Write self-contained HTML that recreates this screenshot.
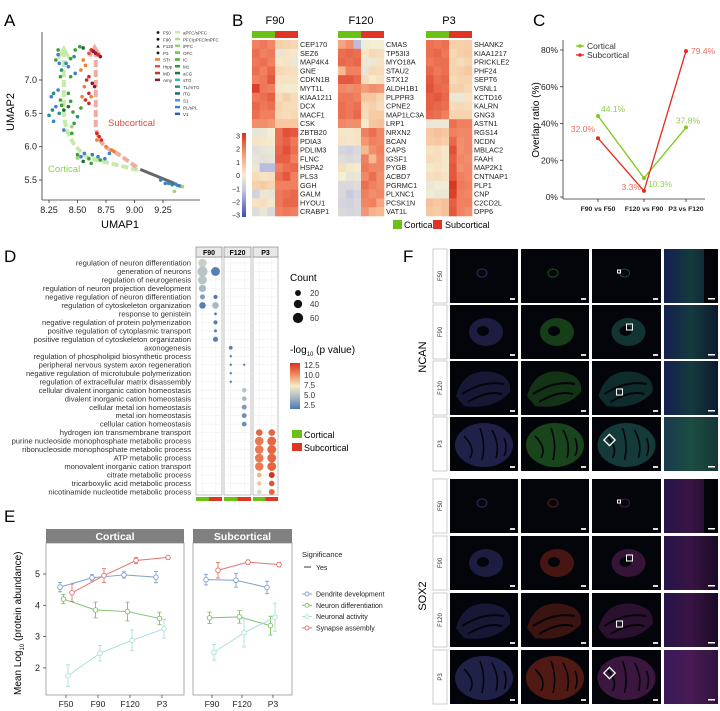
<!DOCTYPE html>
<html><head><meta charset="utf-8"><style>
html,body{margin:0;padding:0;background:#fff;}
svg{display:block;font-family:"Liberation Sans",sans-serif;}
.nar{font-family:"Liberation Sans Narrow","Liberation Sans",sans-serif;}
</style></head><body>
<svg id="fig" width="720" height="711" viewBox="0 0 720 711" xmlns="http://www.w3.org/2000/svg">
<defs>
<linearGradient id="hbar" x1="0" y1="1" x2="0" y2="0">
<stop offset="0" stop-color="#3b4cc0"/><stop offset="0.33" stop-color="#c9c9e0"/><stop offset="0.5" stop-color="#f4efd4"/><stop offset="0.75" stop-color="#f29a72"/><stop offset="1" stop-color="#d7301f"/></linearGradient>
<linearGradient id="pbar" x1="0" y1="1" x2="0" y2="0">
<stop offset="0" stop-color="#4a78b4"/><stop offset="0.25" stop-color="#a9b9c4"/><stop offset="0.5" stop-color="#f3eec9"/><stop offset="0.75" stop-color="#f08a5a"/><stop offset="1" stop-color="#d7301f"/></linearGradient>
<linearGradient id="texN" x1="0" y1="0" x2="1" y2="0"><stop offset="0" stop-color="#2a46b8"/><stop offset="0.5" stop-color="#2f8a8a"/><stop offset="1" stop-color="#1a3a6a"/></linearGradient>
<linearGradient id="texS" x1="0" y1="0" x2="1" y2="0"><stop offset="0" stop-color="#5a2aa8"/><stop offset="0.5" stop-color="#8a2a9a"/><stop offset="1" stop-color="#3a1450"/></linearGradient>
</defs>
<g font-size="17">
<text x="4" y="26">A</text>
<text x="232" y="26">B</text>
<text x="533" y="26">C</text>
<text x="4" y="262">D</text>
<text x="403" y="262">F</text>
<text x="4" y="522">E</text>
</g>
<g id="pA"></g>
<g id="pB"></g>
<g id="pC"></g>
<g id="pD"></g>
<g id="pE"></g>
<g id="pF"></g>
</svg>
<script>
// ---------- DATA ----------
// Panel A
const umapX=[8.33,8.33,8.31,8.34,8.36,8.35,8.42,8.44,8.47,8.48,8.52,8.55,8.48,8.44,8.40,8.27,8.29,8.31,8.28,8.25,8.29,8.33,8.35,8.36,8.34,8.38,8.42,8.44,8.46,8.45,8.47,8.50,8.53,8.45,8.38,8.42,8.5,8.53,8.56,8.6,8.63,8.68,8.7,8.74,8.78,8.55,8.62,8.5,9.23,9.3,9.33,9.36,9.38,9.4,9.42,9.35,9.27,8.62,8.64,8.66,8.68,8.7,8.6,8.55,8.57,8.53,8.58,8.6,8.56,8.63,8.65,8.6,8.62,8.57,8.54,8.6,8.67,8.69,8.71,8.67,8.75,8.8,8.82];
const umapY=[7.45,7.38,7.3,7.25,7.15,7.05,7.2,7.32,7.35,7.45,7.5,7.48,7.1,7.05,7.25,6.75,6.8,6.6,6.55,6.47,6.38,6.85,6.7,6.62,6.5,6.55,6.6,6.68,6.52,6.3,6.35,6.45,6.58,6.2,6.25,6.8,5.88,5.85,5.9,5.82,5.88,5.85,5.8,5.82,5.9,5.78,5.75,5.83,5.5,5.45,5.43,5.44,5.42,5.41,5.4,5.33,5.45,7.45,7.43,7.4,7.38,7.35,7.4,7.3,7.22,7.15,7.0,7.05,6.9,6.95,6.9,6.8,6.75,6.7,6.75,6.65,6.2,6.15,6.1,6.1,6.0,5.95,5.93];
const umapRegion=[1,2,1,2,3,1,2,1,3,1,1,4,2,1,2,2,3,2,3,3,2,2,1,1,3,4,4,1,1,0,1,3,1,1,2,1,1,2,2,1,3,2,1,2,2,4,1,0,2,2,3,2,2,3,0,0,2,6,7,7,6,7,5,8,8,8,6,6,8,7,7,6,8,6,8,6,6,6,6,8,8,8,8];
const regionColors=['#9bd67a','#3aa03a','#3f7fcf','#2b8c8c','#1f6f2f','#e8504a','#d62728','#8b1a3a','#f07f2a'];
const legendAges=['F50','F90','F120','P3'];
const legendSub=['STr','Hipp','MD','Amy'];const legendSubCol=['#f07f2a','#e8504a','#c0392b','#8b1a3a'];
const legendCort=['aPFC/sPFC','PFC/pPFC/mPFC','iPFC','OFC','IC','M1','aCG','sTG','TL/mTG','iTG','S1','PL/sPL','V1'];
const legendCortCol=['#c5eab0','#a8df90','#8fd16a','#6fc04a','#4cae3a','#2e9a2e','#237a30','#3bb4b0','#2b8c8c','#1f6a6a','#5a8fd6','#3f7fcf','#2a5fb8'];
const umapXTicks=[8.25,8.5,8.75,9.0,9.25];const umapYTicks=[5.5,6.0,6.5,7.0];
// Panel B
const hmTitles=['F90','F120','P3'];
const hmGenes=[
['CEP170','SEZ6','MAP4K4','GNE','CDKN1B','MYT1L','KIAA1211','DCX','MACF1','CSK','ZBTB20','PDIA3','PDLIM3','FLNC','HSPA2','PLS3','GGH','GALM','HYOU1','CRABP1'],
['CMAS','TP53I3','MYO18A','STAU2','STX12','ALDH1B1','PLPPR3','CPNE2','MAP1LC3A','LRP1','NRXN2','BCAN','CAPS','IGSF1','PYGB','ACBD7','PGRMC1','PLXNC1','PCSK1N','VAT1L'],
['SHANK2','KIAA1217','PRICKLE2','PHF24','SEPT6','VSNL1','KCTD16','KALRN','GNG3','ASTN1','RGS14','NCDN','MBLAC2','FAAH','MAP2K1','CNTNAP1','PLP1','CNP','C2CD2L','DPP6']];
const hmF90=[[2.0,2.1,1.9,0.8,0.7,0.6],[2.2,2.0,2.1,-0.3,0.3,0.2],[2.1,2.2,2.0,0.2,0.3,-0.2],[2.2,2.0,2.3,0.6,0.5,0.4],[2.0,2.1,2.5,0.3,0.3,0.3],[2.8,2.1,2.0,0.2,0.1,0.1],[2.1,2.2,2.4,0.5,0.8,0.5],[2.3,2.1,2.2,0.7,0.5,0.5],[2.2,2.0,2.0,0.6,0.5,0.6],[1.8,1.8,1.7,1.0,1.0,1.0],[-0.3,-0.2,0,2.2,2.6,2.5],[0.3,0.2,0.1,2.2,2.4,2.1],[-0.4,-0.3,-0.2,2.3,2.6,2.2],[-0.3,-0.4,-0.3,2.4,2.4,2.0],[-0.2,-1.2,-1.2,2.0,2.2,2.3],[0.5,0.3,0.4,2.2,2.5,2.0],[0.8,0.9,0.7,2.0,2.0,2.0],[-0.8,-0.2,-0.3,2.1,2.2,2.3],[0.3,0.4,0.2,2.1,2.3,2.3],[-0.5,-0.2,-0.6,2.0,2.1,2.0]];
const hmF120=[[1.5,1.8,-1.2,-0.1,0,0],[2.2,2.3,2.2,0.2,0.6,0.4],[2.3,2.2,2.3,-0.2,-0.2,0.3],[1.2,2.0,2.0,-0.3,0.6,0.5],[2.5,2.5,2.3,0.5,0.1,0.3],[1.9,1.8,1.9,1.6,1.8,1.7],[2.1,2.1,2.0,1.0,1.0,0.7],[2.2,2.1,2.2,0.6,0.8,0.5],[2.2,2.1,2.3,0.5,0.9,0.9],[1.9,1.8,1.8,0.1,1.0,1.1],[0.2,0.2,0.3,2.0,2.2,1.9],[0.3,0.2,0.3,1.7,2.0,1.9],[-0.7,-0.8,-0.6,1.2,1.8,2.0],[-0.5,-0.6,-0.5,2.0,1.2,1.9],[0.4,0.2,0.1,2.1,1.9,1.9],[0,-0.3,-0.2,1.9,2.2,1.8],[-0.6,-0.6,-0.5,2.2,2.0,1.8],[-0.6,-1.0,-0.7,2.0,1.8,1.9],[-0.7,-0.8,-0.6,1.9,2.0,1.5],[-0.6,-0.7,-0.6,1.7,1.3,1.2]];
const hmP3=[[2.2,2.1,2.2,0.8,0.8,0.8],[2.2,2.3,2.1,0.6,0.8,0.9],[2.1,2.2,2.2,0.7,0.5,0.7],[2.3,2.1,2.2,0.7,0.8,1.0],[2.5,2.2,2.3,0.5,0.7,0.7],[2.6,2.3,2.2,0.8,0.8,0.6],[2.4,2.5,2.3,-0.2,-0.2,0.3],[2.4,2.3,2.2,0.5,0.6,0.5],[2.3,2.2,2.0,0.7,0.7,0.7],[-0.2,-0.2,-0.2,2.2,2.0,2.0],[1.0,1.1,1.0,2.0,1.9,1.9],[0.9,1.0,0.8,2.3,1.8,1.9],[0.3,0.4,0.2,2.6,1.8,1.9],[0.5,0.4,0.2,2.4,1.9,1.8],[0.2,0.3,0.2,2.5,1.8,1.9],[0.4,0.5,0.3,2.5,2.0,1.9],[-0.2,-0.1,-0.1,2.9,2.1,2.0],[-0.1,-0.2,-0.2,2.8,2.0,1.9],[1.1,1.0,1.1,2.4,2.0,2.0],[1.0,0.9,1.1,2.5,2.0,1.8]];
const hmScaleTicks=[3,2,1,0,-1,-2,-3];
// Panel C
const ovCategories=['F90 vs F50','F120 vs F90','P3 vs F120'];
const ovCortical=[44.1,10.3,37.8];
const ovSubcortical=[32.0,3.3,79.4];
const ovTicks=[0,20,40,60,80];
// Panel D
const goTerms=['regulation of neuron differentiation','generation of neurons','regulation of neurogenesis','regulation of neuron projection development','negative regulation of neuron differentiation','regulation of cytoskeleton organization','response to genistein','negative regulation of protein polymerization','positive regulation of cytoplasmic transport','positive regulation of cytoskeleton organization','axonogenesis','regulation of phospholipid biosynthetic process','peripheral nervous system axon regeneration','negative regulation of microtubule polymerization','regulation of extracellular matrix disassembly','cellular divalent inorganic cation homeostasis','divalent inorganic cation homeostasis','cellular metal ion homeostasis','metal ion homeostasis','cellular cation homeostasis','hydrogen ion transmembrane transport','purine nucleoside monophosphate metabolic process','ribonucleoside monophosphate metabolic process','ATP metabolic process','monovalent inorganic cation transport','citrate metabolic process','tricarboxylic acid metabolic process','nicotinamide nucleotide metabolic process'];
const goStages=['F90','F120','P3'];
const goTerm =[0,1,1,2,3,4,4,5,5,6,7,8,9,10,11,12,12,13,14,15,16,17,18,19,20,20,21,21,22,22,23,23,24,24,25,25,26,26,27,27];
const goStage=[0,0,0,0,0,0,0,0,0,0,0,0,0,1,1,1,1,1,1,1,1,1,1,1,2,2,2,2,2,2,2,2,2,2,2,2,2,2,2,2];
const goGroup=[0,0,1,0,0,0,1,0,1,1,1,1,1,0,0,0,1,0,0,1,1,1,1,1,0,1,0,1,0,1,0,1,0,1,0,1,0,1,0,1];
const goCount=[40,60,45,45,30,15,10,25,25,4,10,5,15,8,3,3,3,3,3,12,12,14,14,13,25,25,42,45,42,45,42,45,40,45,12,20,12,18,12,20];
const goLogP=[6,5.5,2.8,5.5,5,4,2.5,2.8,5,2.5,2.8,2.6,2.8,2.8,2.5,2.5,2.5,2.5,2.5,5.5,5,3.8,3.5,3.3,11,11,10.5,11,10.5,11,10.5,11,10.5,11,9,13,8.5,11.5,6.5,11];
const goCountLegend=[20,40,60];
const goPLegend=[12.5,10.0,7.5,5.0,2.5];
// Panel E
const eSeries=['Dendrite development','Neuron differentiation','Neuronal activity','Synapse assembly'];
const eCortStages=['F50','F90','F120','P3'];
const eSubStages=['F90','F120','P3'];
const eCortMean=[[4.58,4.88,4.97,4.9],[4.2,3.85,3.8,3.58],[1.75,2.47,2.88,3.25],[4.4,4.95,5.43,5.53]];
const eCortErr=[[0.15,0.1,0.1,0.18],[0.15,0.25,0.3,0.2],[0.35,0.25,0.33,0.3],[0.28,0.22,0.1,0.06]];
const eSubMean=[[4.82,4.8,4.57],[3.6,3.63,3.35],[2.5,3.12,3.62],[5.12,5.38,5.3]];
const eSubErr=[[0.17,0.22,0.2],[0.18,0.2,0.3],[0.25,0.45,0.45],[0.25,0.07,0.07]];
const eYTicks=[2,3,4,5];
// Panel F
const fStains=['NCAN','SOX2'];
const fAges=['F50','F90','F120','P3'];

// ---------- HELPERS ----------
const NS='http://www.w3.org/2000/svg';
function mk(tag,attrs,parent){const e=document.createElementNS(NS,tag);for(const k in attrs)e.setAttribute(k,attrs[k]);parent.appendChild(e);return e;}
function txt(s,attrs,parent){const e=mk('text',attrs,parent);e.textContent=s;return e;}
function lerpCol(stops,v){
 if(v<=stops[0][0])return 'rgb('+stops[0][1].join(',')+')';
 for(let i=1;i<stops.length;i++){if(v<=stops[i][0]){const a=stops[i-1],b=stops[i];const t=(v-a[0])/(b[0]-a[0]);return 'rgb('+a[1].map((c,j)=>Math.round(c+(b[1][j]-c)*t)).join(',')+')';}}
 return 'rgb('+stops[stops.length-1][1].join(',')+')';}
const hmStops=[[-3,[59,76,192]],[-1,[201,201,224]],[0,[244,239,212]],[1,[247,200,160]],[2,[240,128,95]],[3,[215,48,31]]];
const pStops=[[2.5,[74,120,180]],[5,[169,185,196]],[7.5,[243,238,201]],[10,[240,138,90]],[12.5,[215,48,31]]];
const GREEN='#6cc214',RED='#e03424';

// ---------- PANEL A ----------
(function(){
 const g=document.getElementById('pA');
 const ax=v=>49+(v-8.25)*114, ay=v=>80+(7.0-v)*66.7;
 mk('line',{x1:42,y1:32,x2:42,y2:200,stroke:'#333','stroke-width':0.8},g);
 mk('line',{x1:42,y1:200,x2:200,y2:200,stroke:'#333','stroke-width':0.8},g);
 umapXTicks.forEach(t=>{mk('line',{x1:ax(t),y1:200,x2:ax(t),y2:203,stroke:'#333','stroke-width':0.8},g);
  const l=txt(t.toFixed(2),{x:ax(t),y:213,'font-size':9,'text-anchor':'middle',fill:'#222'},g);
  
  });
 umapYTicks.forEach(t=>{mk('line',{x1:39,y1:ay(t),x2:42,y2:ay(t),stroke:'#333','stroke-width':0.8},g);
  const l=txt(t.toFixed(1),{x:37,y:ay(t)+3,'font-size':9,'text-anchor':'end',fill:'#222'},g);
  
  });
 const xt=txt('UMAP1',{x:120,y:228,'font-size':11,'text-anchor':'middle'},g);
 
 
 const yt=txt('UMAP2',{x:14,y:112,'font-size':11,'text-anchor':'middle',transform:'rotate(-90 14 112)'},g);
 
 
 const tg=mk('path',{d:`M${ax(8.38)},${ay(7.45)} L${ax(8.38)},${ay(6.5)} Q${ax(8.40)},${ay(6.05)} ${ax(8.6)},${ay(5.83)} L${ax(9.03)},${ay(5.65)}`,fill:'none',stroke:'#c6eaa8','stroke-width':4,'stroke-dasharray':'7 3'},g);
 
 
 mk('path',{d:`M${ax(8.33)},${ay(7.32)} L${ax(8.38)},${ay(7.48)} L${ax(8.43)},${ay(7.32)}`,fill:'none',stroke:'#c6eaa8','stroke-width':3},g);
 const tr=mk('path',{d:`M${ax(8.66)},${ay(7.45)} L${ax(8.66)},${ay(6.3)} Q${ax(8.68)},${ay(6.0)} ${ax(8.85)},${ay(5.9)} L${ax(9.03)},${ay(5.68)}`,fill:'none',stroke:'#f0aca0','stroke-width':4,'stroke-dasharray':'7 3'},g);
 
 
 mk('path',{d:`M${ax(8.61)},${ay(7.35)} L${ax(8.65)},${ay(7.5)} L${ax(8.7)},${ay(7.37)}`,fill:'none',stroke:'#f0aca0','stroke-width':3},g);
 const gl=mk('line',{x1:ax(9.05),y1:ay(5.66),x2:ax(9.35),y2:ay(5.45),stroke:'#666','stroke-width':3},g);
 
 
 umapX.forEach((x,i)=>{const c=mk('circle',{cx:ax(x),cy:ay(umapY[i]),r:1.8,fill:regionColors[umapRegion[i]]},g);
  
  });
 const l1=txt('Subcortical',{x:108,y:126,'font-size':9.5,fill:'#e04a3a'},g);
 
 
 const l2=txt('Cortical',{x:48,y:172,'font-size':9.5,fill:'#8fd14f'},g);
 
 
 const lg=mk('g',{},g);
 
 
 legendAges.forEach((s,i)=>{const y=33+i*6.8;
  if(i==2)mk('path',{d:`M158,${y-2} l1.8,3 h-3.6z`,fill:'#111'},lg);else mk('circle',{cx:158,cy:y-0.5,r:1.4,fill:'#111'},lg);
  txt(s,{x:163,y:y+1.5,'font-size':4.5,fill:'#333'},lg);});
 legendSub.forEach((s,i)=>{const y=33+(i+4)*6.8;mk('rect',{x:155,y:y-2,width:5,height:2.5,fill:legendSubCol[i]},lg);
  txt(s,{x:163,y:y+1.5,'font-size':4.5,fill:'#333'},lg);});
 legendCort.forEach((s,i)=>{const y=33+i*6.8;mk('rect',{x:175,y:y-2,width:5,height:2.5,fill:legendCortCol[i]},lg);
  txt(s,{x:183,y:y+1.5,'font-size':4.5,fill:'#333'},lg);});
})();

// ---------- PANEL B ----------
(function(){
 const g=document.getElementById('pB');
 const xs=[252,338,426], W=46, y0=40, rh=8.8, data=[hmF90,hmF120,hmP3];
 data.forEach((m,p)=>{
  const hg=mk('g',{},g);
  
  
  const tt=txt(hmTitles[p],{x:xs[p]+23,y:24,'font-size':11,'text-anchor':'middle'},hg);
  
  
  mk('rect',{x:xs[p],y:31,width:W/2,height:7,fill:GREEN},hg);
  mk('rect',{x:xs[p]+W/2,y:31,width:W/2,height:7,fill:RED},hg);
  const cw=W/6;
  m.forEach((row,r)=>{row.forEach((v,c)=>{const cell=mk('rect',{x:xs[p]+c*cw,y:y0+r*rh,width:cw+0.3,height:rh+0.3,fill:lerpCol(hmStops,v)},hg);
    
    });
   const gl=txt(hmGenes[p][r],{x:xs[p]+W+2,y:y0+r*rh+7,'font-size':7.3,fill:'#222'},hg);
   
   });
 });
 const cb=mk('rect',{x:242,y:133,width:4,height:84,fill:'url(#hbar)'},g);
 
 
 hmScaleTicks.forEach((t,i)=>{txt(t<0?'\u2212'+(-t):''+t,{x:240,y:136+i*13.2+2.5,'font-size':7,'text-anchor':'end',fill:'#222'},g);});
 const lg=mk('g',{},g);
 
 
 mk('rect',{x:393,y:220,width:9,height:9,fill:GREEN},lg);
 txt('Cortical',{x:404,y:228,'font-size':9},lg);
 mk('rect',{x:433,y:220,width:9,height:9,fill:RED},lg);
 txt('Subcortical',{x:445,y:228,'font-size':9},lg);
})();

// ---------- PANEL C ----------
(function(){
 const g=document.getElementById('pC');
 const cx=[598,644,686], cy=v=>197-v*1.8375;
 mk('line',{x1:563,y1:40,x2:563,y2:199,stroke:'#333','stroke-width':0.8},g);
 mk('line',{x1:563,y1:199,x2:705,y2:199,stroke:'#333','stroke-width':0.8},g);
 ovTicks.forEach(t=>{mk('line',{x1:560,y1:cy(t),x2:563,y2:cy(t),stroke:'#333','stroke-width':0.8},g);
  const l=txt(t+'%',{x:558,y:cy(t)+3,'font-size':8.5,'text-anchor':'end',fill:'#222'},g);
  
  });
 ovCategories.forEach((c,i)=>{mk('line',{x1:cx[i],y1:199,x2:cx[i],y2:202,stroke:'#333','stroke-width':0.8},g);
  const l=txt(c,{x:cx[i],y:211,'font-size':6.8,'font-weight':'bold','text-anchor':'middle',fill:'#222'},g);
  
  });
 const yt=txt('Overlap ratio (%)',{x:539,y:120,'font-size':10,'text-anchor':'middle',transform:'rotate(-90 539 120)'},g);
 
 
 [[ovCortical,'#7ccc1a'],[ovSubcortical,'#e8281e']].forEach(([s,col],k)=>{
  const ln=mk('polyline',{points:s.map((v,i)=>cx[i]+','+cy(v)).join(' '),fill:'none',stroke:col,'stroke-width':1.3},g);
  
  
  s.forEach((v,i)=>{const p=mk('circle',{cx:cx[i],cy:cy(v),r:2,fill:col},g);
   
   });
 });
 const lbl=(s,x,y,col,anchor)=>{const l=txt(s,{x:x,y:y,'font-size':8.5,fill:col,'text-anchor':anchor},g);
  
  };
 lbl(ovCortical[0].toFixed(1)+'%',cx[0]+3,cy(ovCortical[0])-4,'#8fd14f','start');
 lbl(ovSubcortical[0].toFixed(1)+'%',cx[0]-3,cy(ovSubcortical[0])-6,'#ef6a5e','end');
 lbl(ovCortical[1].toFixed(1)+'%',cx[1]+4,cy(ovCortical[1])+9,'#8fd14f','start');
 lbl(ovSubcortical[1].toFixed(1)+'%',cx[1]-3,cy(ovSubcortical[1])-1,'#ef6a5e','end');
 lbl(ovCortical[2].toFixed(1)+'%',cx[2]+2,cy(ovCortical[2])-4,'#8fd14f','middle');
 lbl(ovSubcortical[2].toFixed(1)+'%',cx[2]+5,cy(ovSubcortical[2])+3,'#ef6a5e','start');
 const lg=mk('g',{},g);
 
 
 mk('line',{x1:576,y1:46,x2:584,y2:46,stroke:'#7ccc1a','stroke-width':1.3},lg);mk('circle',{cx:580,cy:46,r:1.8,fill:'#7ccc1a'},lg);
 txt('Cortical',{x:587,y:49,'font-size':8.5,fill:'#333'},lg);
 mk('line',{x1:576,y1:55,x2:584,y2:55,stroke:'#e8281e','stroke-width':1.3},lg);mk('circle',{cx:580,cy:55,r:1.8,fill:'#e8281e'},lg);
 txt('Subcortical',{x:587,y:58,'font-size':8.5,fill:'#333'},lg);
})();

// ---------- PANEL D ----------
(function(){
 const g=document.getElementById('pD');
 const px=[[196,222],[224,251],[253,278]], ry=i=>263+i*8.48;
 px.forEach((p,k)=>{
  const pg=mk('g',{},g);
  
  
  mk('rect',{x:p[0],y:257,width:p[1]-p[0],height:238,fill:'#fff',stroke:'#999','stroke-width':0.6},pg);
  goTerms.forEach((t,i)=>mk('line',{x1:p[0],y1:ry(i),x2:p[1],y2:ry(i),stroke:'#ececec','stroke-width':0.5},pg));
  const w=p[1]-p[0];
  [0.25,0.75].forEach(f=>mk('line',{x1:p[0]+w*f,y1:257,x2:p[0]+w*f,y2:495,stroke:'#ececec','stroke-width':0.5},pg));
  mk('rect',{x:p[0],y:247,width:w,height:10,fill:'#e8e8e8',stroke:'#777','stroke-width':0.6},pg);
  txt(goStages[k],{x:p[0]+w/2,y:255,'font-size':7,'font-weight':'bold','text-anchor':'middle'},pg);
  mk('rect',{x:p[0],y:497,width:w/2,height:4,fill:GREEN},pg);
  mk('rect',{x:p[0]+w/2,y:497,width:w/2,height:4,fill:RED},pg);
 });
 goTerms.forEach((t,i)=>{const l=txt(t,{x:191,y:ry(i)+2.6,'font-size':7.6,'text-anchor':'end',fill:'#333',class:'nar'},g);
  
  });
 goTerm.forEach((ti,i)=>{const p=px[goStage[i]],w=p[1]-p[0];
  const c=mk('circle',{cx:p[0]+w*(goGroup[i]?0.75:0.25),cy:ry(ti),r:Math.sqrt(goCount[i])*0.66,fill:lerpCol(pStops,goLogP[i])},g);
  
  });
 const lg=mk('g',{},g);
 
 
 txt('Count',{x:290,y:281,'font-size':10},lg);
 goCountLegend.forEach((c,i)=>{const y=[293,304,318][i];mk('circle',{cx:298,cy:y,r:Math.sqrt(c)*0.66,fill:'#111'},lg);
  txt(''+c,{x:310,y:y+3,'font-size':8,fill:'#333'},lg);});
 const h=txt('-log',{x:290,y:353,'font-size':10},lg);
 const ts=mk('tspan',{'font-size':6,dy:3},h);ts.textContent='10';
 const ts2=mk('tspan',{dy:-3},h);ts2.textContent=' (p value)';
 mk('rect',{x:290,y:363,width:10,height:46,fill:'url(#pbar)'},lg);
 goPLegend.forEach((v,i)=>txt(v.toFixed(1),{x:304,y:368+i*10,'font-size':8,fill:'#333'},lg));
 mk('rect',{x:292,y:430,width:10,height:8,fill:GREEN},lg);txt('Cortical',{x:304,y:438,'font-size':9},lg);
 mk('rect',{x:292,y:443,width:10,height:8,fill:RED},lg);txt('Subcortical',{x:304,y:451,'font-size':9},lg);
})();

// ---------- PANEL E ----------
(function(){
 const g=document.getElementById('pE');
 const ey=v=>574-(v-5)*31.3;
 const cols=['#7fa0cc','#7fbf6a','#a9e0d8','#e4726c'], off=[-6,-2.5,2,6];
 const facets=[{x0:46,x1:184,title:'Cortical',xs:[66,98,130,162],st:eCortStages,m:eCortMean,e:eCortErr},
  {x0:193,x1:292,title:'Subcortical',xs:[212,242,273],st:eSubStages,m:eSubMean,e:eSubErr}];
 facets.forEach(f=>{
  const fg=mk('g',{},g);
  
  
  mk('rect',{x:f.x0,y:543,width:f.x1-f.x0,height:152,fill:'#fff',stroke:'#888','stroke-width':0.7},fg);
  mk('rect',{x:f.x0,y:529,width:f.x1-f.x0,height:14,fill:'#808080'},fg);
  txt(f.title,{x:(f.x0+f.x1)/2,y:540,'font-size':10.5,'font-weight':'bold','text-anchor':'middle',fill:'#fff'},fg);
  f.st.forEach((s,i)=>{mk('line',{x1:f.xs[i],y1:695,x2:f.xs[i],y2:698,stroke:'#333','stroke-width':0.7},fg);
   const l=txt(s,{x:f.xs[i],y:707,'font-size':8.5,'text-anchor':'middle',fill:'#222'},fg);
   
   });
  f.m.forEach((ser,k)=>{
   const ln=mk('polyline',{points:ser.map((v,i)=>(f.xs[i]+off[k])+','+ey(v)).join(' '),fill:'none',stroke:cols[k],'stroke-width':1},fg);
   
   
   ser.forEach((v,i)=>{const x=f.xs[i]+off[k],er=f.e[k][i];
    mk('line',{x1:x,y1:ey(v+er),x2:x,y2:ey(v-er),stroke:cols[k],'stroke-width':0.9},fg);
    mk('line',{x1:x-2,y1:ey(v+er),x2:x+2,y2:ey(v+er),stroke:cols[k],'stroke-width':0.9},fg);
    mk('line',{x1:x-2,y1:ey(v-er),x2:x+2,y2:ey(v-er),stroke:cols[k],'stroke-width':0.9},fg);
    const c=mk('circle',{cx:x,cy:ey(v),r:2.3,fill:'#fff',stroke:cols[k],'stroke-width':0.9},fg);
    
    });
  });
 });
 eYTicks.forEach(t=>{mk('line',{x1:43,y1:ey(t),x2:46,y2:ey(t),stroke:'#333','stroke-width':0.7},g);
  const l=txt(''+t,{x:40,y:ey(t)+3,'font-size':9,'text-anchor':'end',fill:'#222'},g);
  
  });
 const yt=txt('Mean Log',{x:0,y:0,'font-size':10,transform:'translate(21,695) rotate(-90)'},g);
 const s1=mk('tspan',{'font-size':6,dy:3},yt);s1.textContent='10';
 const s2=mk('tspan',{dy:-3},yt);s2.textContent=' (protein abundance)';
 
 
 const lg=mk('g',{},g);
 
 
 txt('Significance',{x:302,y:557,'font-size':7.5,fill:'#222'},lg);
 mk('line',{x1:304,y1:567,x2:311,y2:567,stroke:'#333','stroke-width':1},lg);
 txt('Yes',{x:316,y:570,'font-size':7,fill:'#222'},lg);
 eSeries.forEach((s,k)=>{const y=594+k*11.3;
  mk('line',{x1:302,y1:y,x2:312,y2:y,stroke:cols[k],'stroke-width':1},lg);
  mk('circle',{cx:307,cy:y,r:2,fill:'#fff',stroke:cols[k],'stroke-width':0.9},lg);
  txt(s,{x:316,y:y+2.5,'font-size':7,fill:'#222'},lg);});
})();

// ---------- PANEL F ----------
(function(){
 const g=document.getElementById('pF');
 const colX=[450,521,592,664], colW=[68,68,69,54], H=54;
 const rowY=[[249,305,361,417],[479,536,593,650]];
 fStains.forEach((st,si)=>{
  const sl=txt(st,{x:0,y:0,'font-size':11,'text-anchor':'middle',transform:`translate(426,${si?596:357}) rotate(-90)`},g);
  
  
  const chCol=si?'#a83020':'#2f8f2f', mergeCol=si?'#7a2a7a':'#267a70';
  fAges.forEach((age,ai)=>{
   const y=rowY[si][ai];
   mk('rect',{x:433,y:y,width:14,height:H,fill:'#fff',stroke:'#aaa','stroke-width':0.6},g);
   txt(age,{x:0,y:0,'font-size':6,'text-anchor':'middle',fill:'#333',transform:`translate(442,${y+H/2}) rotate(-90)`},g);
   colX.forEach((x,ci)=>{
    const tg=mk('g',{},g);
    
    
    mk('rect',{x:x,y:y,width:colW[ci],height:H,fill:'#04050a'},tg);
    if(ci==3){
     mk('rect',{x:x,y:y,width:colW[ci],height:H,fill:si?'url(#texS)':'url(#texN)',opacity:0.4},tg);
     if(ai==0)mk('rect',{x:x+40,y:y,width:14,height:H,fill:'#04050a'},tg);
     if(ai==3)mk('rect',{x:x,y:y,width:colW[ci],height:H,fill:si?'#6a2a7a':'#2a7a4a',opacity:0.3},tg);
     mk('rect',{x:x+colW[ci]-10,y:y+H-5,width:7,height:1.5,fill:'#fff'},tg);
     return;}
    const c=ci==0?'#4a4aa8':(ci==1?chCol:mergeCol);
    const op=ci==0?0.35:0.42;
    const cx=x+colW[ci]/2, cy=y+H/2;
    if(ai==0){mk('ellipse',{cx:cx-2,cy:cy-3,rx:5,ry:4,fill:'none',stroke:c,'stroke-width':1,opacity:0.6},tg);}
    else if(ai==1){mk('ellipse',{cx:cx+2,cy:cy,rx:17,ry:14,fill:c,opacity:op},tg);
     mk('ellipse',{cx:cx-1,cy:cy-1,rx:6,ry:5,fill:'#04050a'},tg);}
    else if(ai==2){mk('path',{d:`M${cx-28},${cy+8} Q${cx-20},${cy-20} ${cx+8},${cy-16} Q${cx+28},${cy-12} ${cx+26},${cy+4} Q${cx+10},${cy+22} ${cx-20},${cy+18}Z`,fill:c,opacity:op*0.8},tg);
     mk('path',{d:`M${cx-22},${cy+6} Q${cx},${cy-8} ${cx+20},${cy-4} M${cx-16},${cy+14} Q${cx+4},${cy+2} ${cx+18},${cy+6}`,fill:'none',stroke:'#04050a','stroke-width':2},tg);}
    else {mk('ellipse',{cx:cx,cy:cy+1,rx:29,ry:22,fill:c,opacity:op+0.05},tg);
     mk('path',{d:`M${cx-20},${cy-8} Q${cx-8},${cy+4} ${cx-14},${cy+14} M${cx-4},${cy-16} Q${cx+2},${cy} ${cx-2},${cy+16} M${cx+8},${cy-14} Q${cx+16},${cy} ${cx+12},${cy+14} M${cx+20},${cy-6} Q${cx+24},${cy+4} ${cx+20},${cy+12}`,fill:'none',stroke:'#04050a','stroke-width':1.6},tg);}
    if(ci==2){
     if(ai==0)mk('rect',{x:cx-9,y:cy-6,width:3,height:3,fill:'none',stroke:'#fff','stroke-width':1},tg);
     if(ai==1)mk('rect',{x:cx,y:cy-8,width:6,height:6,fill:'none',stroke:'#fff','stroke-width':1},tg);
     if(ai==2)mk('rect',{x:cx-10,y:cy+1,width:6,height:6,fill:'none',stroke:'#fff','stroke-width':1},tg);
     if(ai==3)mk('rect',{x:cx-21,y:cy-8,width:8,height:8,fill:'none',stroke:'#fff','stroke-width':1.3,transform:`rotate(45 ${cx-17} ${cy-4})`},tg);
    }
    mk('rect',{x:x+colW[ci]-8,y:y+H-5,width:5,height:2,fill:'#ddd'},tg);
   });
  });
 });
})();
</script>
</body></html>
